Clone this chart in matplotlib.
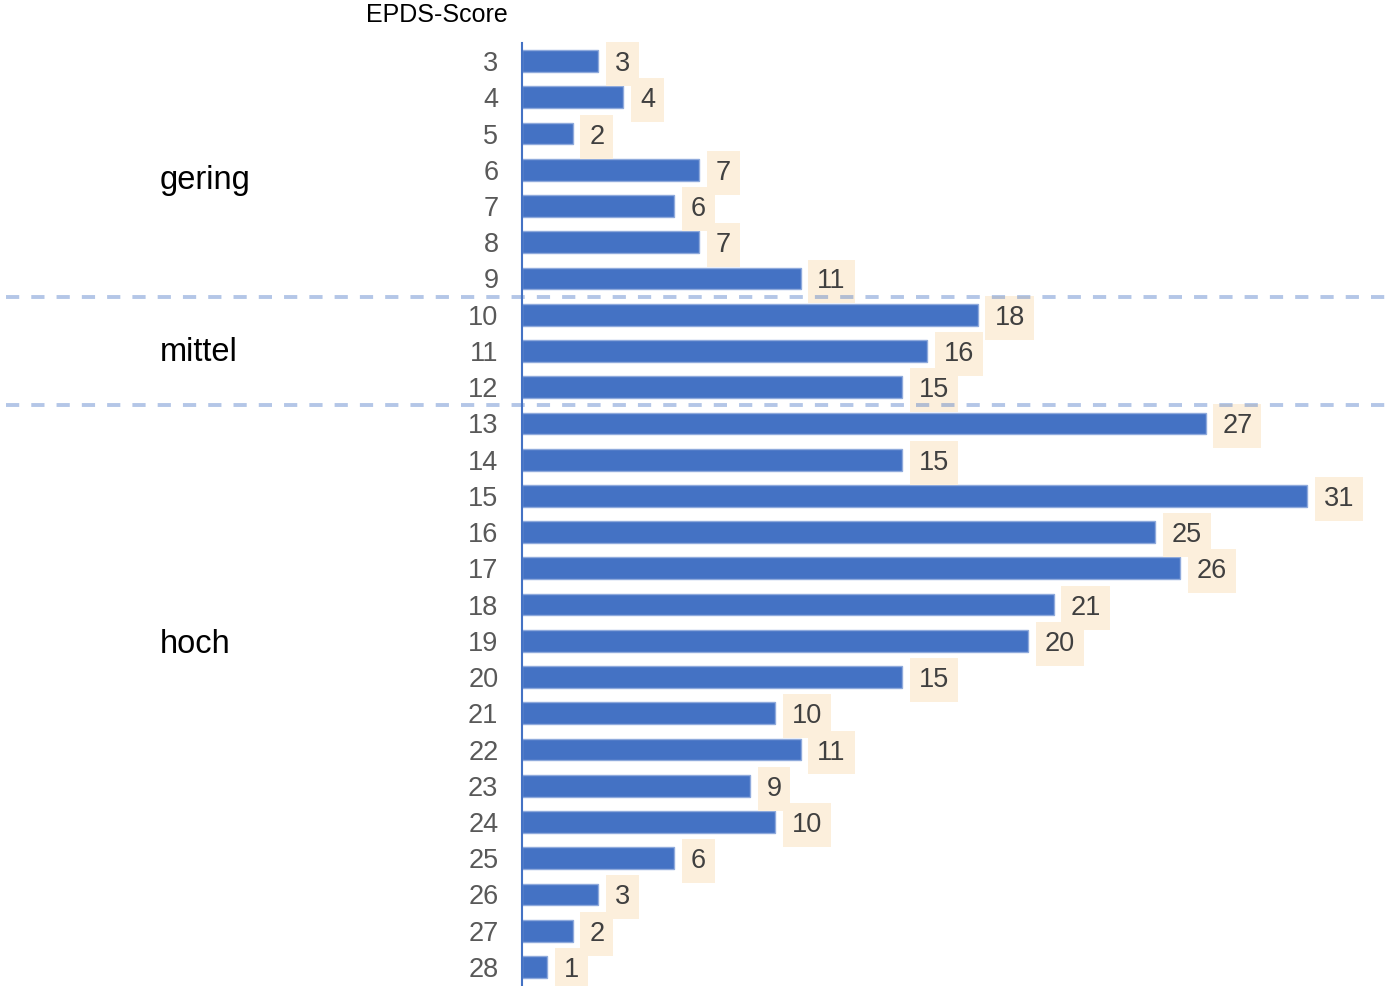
import matplotlib.pyplot as plt
from matplotlib.transforms import blended_transform_factory

plt.rcParams['font.family'] = ['Liberation Sans', 'DejaVu Sans']

# EPDS score and number of cases
scores = list(range(3, 29))
counts = [3, 4, 2, 7, 6, 7, 11, 18, 16, 15, 27, 15, 31, 25, 26, 21, 20, 15,
          10, 11, 9, 10, 6, 3, 2, 1]

# risk groups: name, first score, last score
groups = ['gering', 'mittel', 'hoch']
group_start = [3, 10, 13]
group_end = [9, 12, 28]
group_label_row = [6.3, 11.05, 19.1]

fig = plt.figure(figsize=(13.93, 9.86), dpi=100)
ax = fig.add_axes([522 / 1393, 1 / 986, 871 / 1393, 942 / 986])

ax.barh(scores, counts, height=0.6, color='#4472c4', edgecolor='#8faadc',
        linewidth=1, zorder=2)
ax.set_ylim(28.5, 2.5)
ax.set_xlim(0, 34.4)

for s, c in zip(scores, counts):
    ax.annotate(str(c), xy=(c, s), xytext=(12, 0), textcoords='offset points',
                va='center_baseline', ha='left', fontsize=19.5, color='#404040',
                bbox=dict(boxstyle='square,pad=0.33', fc='#fcefdc', ec='none'),
                zorder=3)

ax.set_yticks(scores)
ax.set_yticklabels([str(s) for s in scores])
ax.tick_params(axis='y', length=0, pad=17, labelsize=19.5, labelcolor='#595959')
for lab in ax.get_yticklabels():
    lab.set_verticalalignment('center_baseline')
ax.set_xticks([])
for side in ['top', 'right', 'bottom']:
    ax.spines[side].set_visible(False)
ax.spines['left'].set_color('#4472c4')
ax.spines['left'].set_linewidth(1.5)

# dashed separators across the whole figure
trans = blended_transform_factory(fig.transFigure, ax.transData)
for start in group_start[1:]:
    ax.plot([0.004, 1], [start - 0.5, start - 0.5], transform=trans,
            clip_on=False, color='#4472c4', alpha=0.4,
            linestyle=(0, (3.4, 3.1)), linewidth=2.8, zorder=4)

for name, row in zip(groups, group_label_row):
    ax.text(160 / 1393, row, name, transform=trans, fontsize=23.5, color='black',
            va='center', ha='left')

fig.text(437 / 1393, 1 - 15 / 986, 'EPDS-Score', fontsize=18, color='black',
         ha='center', va='center')

fig.savefig('out.png', dpi=100)
